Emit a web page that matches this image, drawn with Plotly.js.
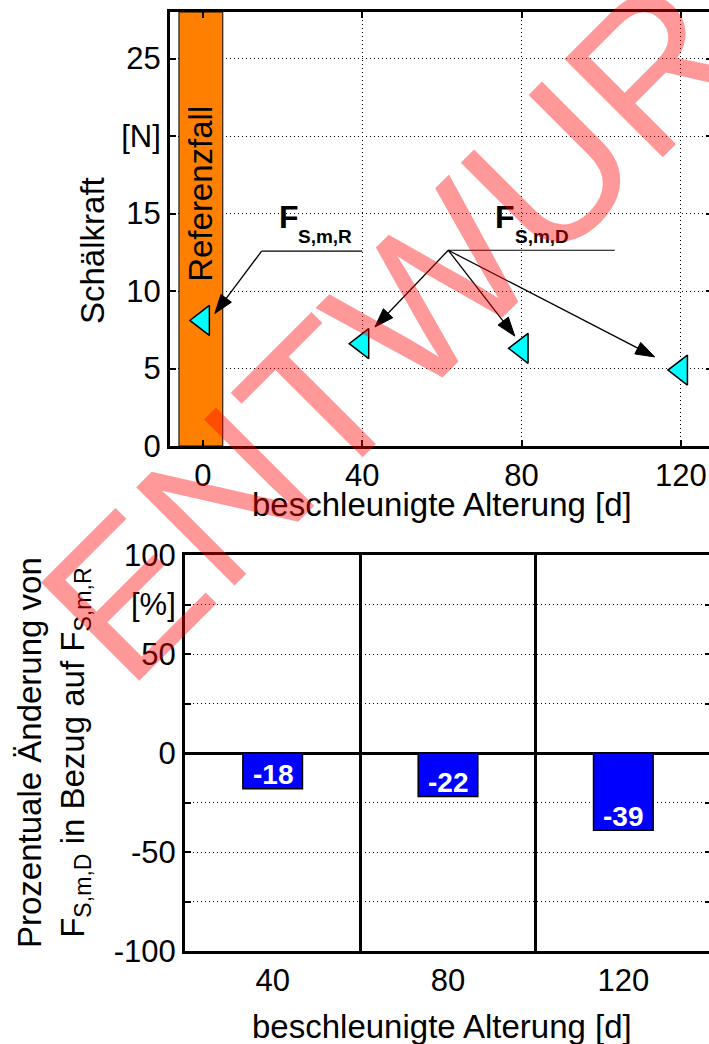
<!DOCTYPE html>
<html><head><meta charset="utf-8">
<script src="https://cdn.plot.ly/plotly-3.0.1.min.js"></script>
<style>html,body{margin:0;padding:0;overflow:hidden;background:#fff}</style>
</head><body><div id="chart" style="width:716px;height:1044px"></div>
<script>
// ---- data ----
const agingDays = [40, 80, 120];          // beschleunigte Alterung [d]
const refDay = [0];                        // Referenzfall
const refForce = [8.1];                    // F_S,m,R [N]
const agedForce = [6.6, 6.3, 4.9];         // F_S,m,D [N]
const changePct = [-18, -22, -39];         // Änderung in %
const catLabels = ['40', '80', '120'];
const topXTickVals = [0, 40, 80, 120];
const topYTickVals = [0, 5, 10, 15, 20, 25];
const topYTickText = ['0', '5', '10', '15', '[N]', '25'];
const botYTickVals = [-100, -75, -50, -25, 0, 25, 50, 75, 100];
const botYTickText = ['-100', '', '-50', '', '0', '', '50', '[%]', '100'];

// ---- layout helpers ----
const W = 716, H = 1044;
const FF = 'Liberation Sans, Arial, sans-serif';
const px = v => v / W;
const py = v => 1 - v / H;
const catPos = catLabels.map((_, i) => i + 1);
const sepPos = catPos.slice(0, -1).map(p => p + 0.5);
const topXRange = [-8.25, 127.8];
const topYRange = [0, 28];
const topDomX = [170, 712], topDomY = [12, 446];   // pixels

const gridDot = '1px,3px';
const axBase = {
  showline: true, linecolor: '#000', linewidth: 3, mirror: 'ticks',
  ticks: 'inside', ticklen: 6, tickwidth: 2, tickcolor: '#000',
  tickfont: {family: FF, size: 31, color: '#000'},
  showgrid: true, gridcolor: '#000', gridwidth: 1, griddash: gridDot,
  zeroline: false, fixedrange: true
};

const traces = [
  {
    type: 'scatter', mode: 'markers', xaxis: 'x', yaxis: 'y',
    x: refDay.concat(agingDays), y: refForce.concat(agedForce),
    marker: {symbol: 'triangle-left', size: 26, color: '#00FFFF', line: {color: '#000', width: 1.5}},
    hoverinfo: 'skip', cliponaxis: false
  },
  {
    type: 'bar', xaxis: 'x2', yaxis: 'y2',
    x: catPos, y: changePct, width: 0.34,
    marker: {color: '#0000FF', line: {color: '#000', width: 1.5}},
    hoverinfo: 'skip'
  }
];

const ann = [];
const txt = (o) => ann.push(Object.assign({showarrow: false, xanchor: 'center', yanchor: 'middle',
  font: {family: FF, size: 33, color: '#000'}}, o));

// bar values
changePct.forEach((v, i) => txt({xref: 'x2', yref: 'y2', x: catPos[i], y: v, yshift: 14,
  text: '<b>' + v + '</b>', font: {family: FF, size: 28, color: '#fff'}}));

// Referenzfall
txt({xref: 'x', yref: 'y', x: -0.6, y: 16.3, textangle: -90, text: 'Referenzfall'});

// F labels
txt({xref: 'x', yref: 'y', x: 18.6, y: 14.78, xanchor: 'left', text: '<b>F</b>', font: {family: FF, size: 32, color: '#000'}});
txt({xref: 'x', yref: 'y', x: 23.4, y: 13.5, xanchor: 'left', text: '<b>S,m,R</b>', font: {family: FF, size: 19, color: '#000'}});
txt({xref: 'x', yref: 'y', x: 72.9, y: 14.78, xanchor: 'left', text: '<b>F</b>', font: {family: FF, size: 32, color: '#000'}});
txt({xref: 'x', yref: 'y', x: 77.9, y: 13.5, xanchor: 'left', text: '<b>S,m,D</b>', font: {family: FF, size: 19, color: '#000'}});

// axis titles
txt({xref: 'paper', yref: 'paper', x: px(92), y: py(251), textangle: -90, text: 'Schälkraft'});
txt({xref: 'paper', yref: 'paper', x: px(442), y: py(504), text: 'beschleunigte Alterung [d]'});
txt({xref: 'paper', yref: 'paper', x: px(442), y: py(1026), text: 'beschleunigte Alterung [d]'});
txt({xref: 'paper', yref: 'paper', x: px(53), y: py(753), textangle: -90,
  text: 'Prozentuale Änderung von<br>F<sub>S,m,D</sub> in Bezug auf F<sub>S,m,R</sub>'});

// watermark
txt({xref: 'paper', yref: 'paper', x: px(435), y: py(286), textangle: -45,
  text: 'ENTWURF', font: {family: FF, size: 202, color: 'rgba(255,0,0,0.4)'}});

const shapes = [
  {type: 'rect', xref: 'x', yref: 'y', x0: -6, x1: 5, y0: topYRange[0], y1: topYRange[1], fillcolor: '#FF8000',
   line: {color: '#000', width: 1}, layer: 'between'},
  {type: 'line', xref: 'x', yref: 'y', x0: 14.75, x1: 40, y0: 12.57, y1: 12.57, line: {color: '#000', width: 1.2}},
  {type: 'line', xref: 'x', yref: 'y', x0: 61.6, x1: 103.4, y0: 12.63, y1: 12.63, line: {color: '#000', width: 1.2}}
];

// arrows (line + filled head, head size given in pixels)
const sx = (topDomX[1] - topDomX[0]) / (topXRange[1] - topXRange[0]);
const sy = (topDomY[1] - topDomY[0]) / (topYRange[1] - topYRange[0]);
function arrow(tx, ty, ax, ay) {
  const dx = (tx - ax) * sx, dy = -(ty - ay) * sy;
  const len = Math.hypot(dx, dy), ux = dx / len, uy = dy / len;
  const L = 19, hw = 6.5;
  const bx = -L * ux, by = -L * uy;
  const p1 = [bx - hw * uy, by + hw * ux], p2 = [bx + hw * uy, by - hw * ux];
  const toD = p => [tx + p[0] / sx, ty - p[1] / sy];
  const b = toD([bx, by]), q1 = toD(p1), q2 = toD(p2);
  shapes.push({type: 'line', xref: 'x', yref: 'y', x0: ax, y0: ay, x1: b[0], y1: b[1], line: {color: '#000', width: 1.3}});
  shapes.push({type: 'path', xref: 'x', yref: 'y', fillcolor: '#000', line: {color: '#000', width: 1},
    path: `M${tx},${ty} L${q1[0]},${q1[1]} L${q2[0]},${q2[1]} Z`});
}
arrow(3.0, 8.55, 14.75, 12.57);
arrow(43.2, 7.68, 61.6, 12.63);
arrow(78.3, 7.09, 61.6, 12.63);
arrow(113.4, 5.75, 61.6, 12.63);

const layout = {
  width: W, height: H, margin: {l: 0, r: 0, t: 0, b: 0},
  paper_bgcolor: '#fff', plot_bgcolor: '#fff', showlegend: false,
  font: {family: FF, color: '#000'},
  xaxis: Object.assign({}, axBase, {domain: [px(topDomX[0]), px(topDomX[1])], anchor: 'y', range: topXRange,
    tickmode: 'array', tickvals: topXTickVals}),
  yaxis: Object.assign({}, axBase, {domain: [py(topDomY[1]), py(topDomY[0])], anchor: 'x', range: topYRange,
    tickmode: 'array', tickvals: topYTickVals, ticktext: topYTickText}),
  xaxis2: Object.assign({}, axBase, {domain: [px(185), px(711)], anchor: 'y2', range: [0.5, 3.5],
    tickmode: 'array', tickvals: catPos, ticktext: catLabels, ticks: '', showgrid: false, mirror: true,
    minor: {tickmode: 'array', tickvals: sepPos, showgrid: true, gridcolor: '#000', gridwidth: 3, griddash: 'solid', ticks: ''}}),
  yaxis2: Object.assign({}, axBase, {domain: [py(951), py(555)], anchor: 'x2', range: [-100, 100],
    tickmode: 'array', tickvals: botYTickVals, ticktext: botYTickText,
    zeroline: true, zerolinecolor: '#000', zerolinewidth: 3}),
  shapes: shapes, annotations: ann
};

Plotly.newPlot('chart', traces, layout, {staticPlot: true, displayModeBar: false});
</script></body></html>
